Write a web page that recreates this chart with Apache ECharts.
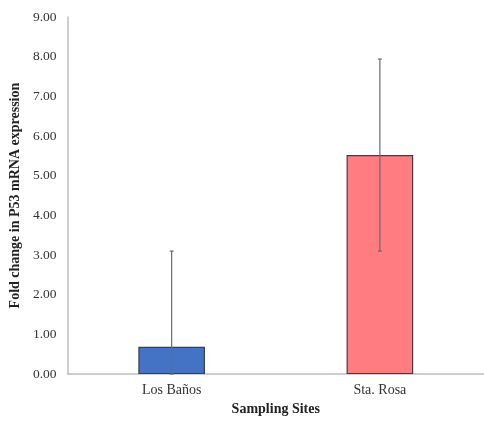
<!DOCTYPE html>
<html>
<head>
<meta charset="utf-8">
<script src="https://cdn.jsdelivr.net/npm/echarts@6/dist/echarts.min.js"></script>
<style>
  html, body { margin: 0; padding: 0; background: #fff; }
  #chart { width: 484px; height: 421px; }
</style>
</head>
<body>
<div id="chart"></div>
<script>
// Sampling sites and mean fold change of P53 mRNA expression
const sites = ['Los Baños', 'Sta. Rosa'];
const foldChange = [0.69, 5.52];
// Error bar half-widths (standard deviation)
const errorSize = [2.41, 2.42];
const barColors = ['#4472C4', '#FF7C80'];

const errorData = sites.map((s, i) => [i, Math.max(0, foldChange[i] - errorSize[i]), foldChange[i] + errorSize[i]]);

const chart = echarts.init(document.getElementById('chart'));
const serif = '"Liberation Serif", "Times New Roman", serif';

chart.setOption({
  animation: false,
  grid: { left: 63, right: 0, top: 17, bottom: 38 },
  xAxis: {
    type: 'category',
    data: sites,
    name: 'Sampling Sites',
    nameLocation: 'middle',
    nameGap: 27,
    nameTextStyle: { fontFamily: serif, fontWeight: 'bold', fontSize: 14, color: '#222' },
    axisLine: { lineStyle: { color: '#BFBFBF', width: 1.5 } },
    axisTick: { show: false },
    axisLabel: { fontFamily: serif, fontSize: 14, color: '#333', margin: 9 }
  },
  yAxis: {
    type: 'value',
    min: 0,
    max: 9,
    interval: 1,
    name: 'Fold change in P53 mRNA expression',
    nameLocation: 'middle',
    nameGap: 40,
    nameTextStyle: { fontFamily: serif, fontWeight: 'bold', fontSize: 14, color: '#222' },
    axisLine: { show: true, lineStyle: { color: '#BFBFBF', width: 1.5 } },
    axisTick: { show: false },
    splitLine: { show: false },
    axisLabel: {
      fontFamily: serif, fontSize: 13.5, color: '#333', margin: 11,
      formatter: v => v.toFixed(2)
    }
  },
  series: [
    {
      type: 'bar',
      barWidth: '32%',
      data: foldChange.map((v, i) => ({
        value: v,
        itemStyle: { color: barColors[i], borderColor: '#3a3f4a', borderWidth: 1.2 }
      }))
    },
    {
      type: 'custom',
      z: 10,
      renderItem: (params, api) => {
        const x = api.value(0);
        const lo = api.coord([x, api.value(1)]);
        const hi = api.coord([x, api.value(2)]);
        const cap = 2;
        const style = { stroke: '#6b6b6b', lineWidth: 1.2 };
        return {
          type: 'group',
          children: [
            { type: 'line', shape: { x1: hi[0], y1: hi[1], x2: lo[0], y2: lo[1] }, style },
            { type: 'line', shape: { x1: hi[0] - cap, y1: hi[1], x2: hi[0] + cap, y2: hi[1] }, style },
            { type: 'line', shape: { x1: lo[0] - cap, y1: lo[1], x2: lo[0] + cap, y2: lo[1] }, style }
          ]
        };
      },
      encode: { x: 0, y: [1, 2] },
      data: errorData
    }
  ]
});
</script>
</body>
</html>
